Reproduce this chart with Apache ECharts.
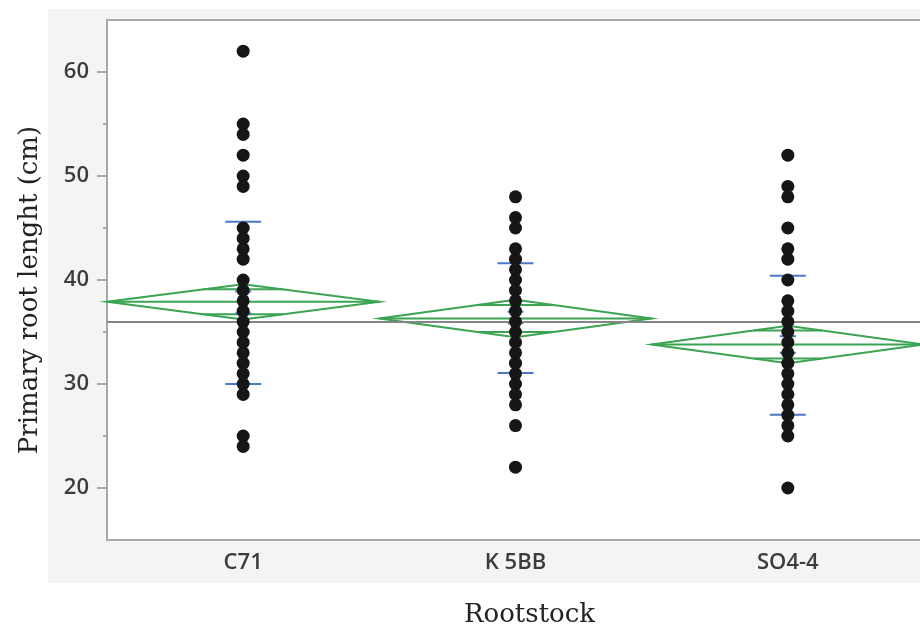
<!DOCTYPE html>
<html lang="en" style="height: 100%">
<head>
  <meta charset="UTF-8">
  <title>Primary root length by rootstock</title>
  <script src="https://cdn.jsdelivr.net/npm/echarts@6/dist/echarts.min.js"></script>
</head>
<body style="height: 100%; margin: 0; background: #fff;">
  <div id="main" style="width: 920px; height: 628px;"></div>

  <script>
  // categories and raw points
  const categories = ['C71', 'K 5BB', 'SO4-4'];
  const c71Values = [62, 55, 54, 52, 50, 49, 45, 44, 43, 42, 40, 39, 38, 37, 36, 35, 34, 33, 32, 31, 30, 29, 25, 24];
  const k5bbValues = [48, 46, 45, 43, 42, 41, 40, 39, 38, 37, 36, 35, 34, 33, 32, 31, 30, 29, 28, 26, 22];
  const so44Values = [52, 49, 48, 45, 43, 42, 40, 38, 37, 36, 35, 34, 33, 32, 31, 30, 29, 28, 27, 26, 25, 20];

  // means diamonds (mean, 95% CI half height, overlap marks)
  const means = [37.9, 36.3, 33.8];
  const ciHalf = [1.7, 1.8, 1.8];
  const overlapHalf = [1.2, 1.3, 1.35];

  // std dev bars and mean error bars
  const sdHi = [45.6, 41.6, 40.4];
  const sdLo = [30.0, 31.05, 27.05];
  const seHi = [38.9, 36.95, 34.6];
  const seLo = [36.8, 35.85, 33.0];

  const grandMean = 36.0;

  const majorTicks = [20, 30, 40, 50, 60];
  const minorTicks = [25, 35, 45, 55];

  const groups = [c71Values, k5bbValues, so44Values];
  const points = [];
  groups.forEach(function (vals, i) {
    vals.forEach(function (v) { points.push([i, v]); });
  });

  const green = '#3aa453';
  const blue = '#4a78c8';
  const axisGray = '#a8a8a8';

  const chart = echarts.init(document.getElementById('main'));

  const option = {
    animation: false,
    backgroundColor: '#fff',
    graphic: [{
      type: 'rect',
      z: -10,
      left: 48,
      top: 9,
      shape: { width: 880, height: 574 },
      style: { fill: '#f4f4f4' },
      silent: true
    }],
    grid: {
      left: 107,
      right: -4,
      top: 20,
      bottom: 88,
      outerBoundsMode: 'none',
      show: true,
      backgroundColor: '#fff',
      borderWidth: 0
    },
    xAxis: [{
      type: 'category',
      data: categories,
      boundaryGap: true,
      name: 'Rootstock',
      nameLocation: 'middle',
      nameGap: 62,
      nameTextStyle: {
        fontFamily: 'DejaVu Serif',
        fontSize: 26,
        color: '#222',
        padding: [0, 0, 0, 28]
      },
      axisLine: { lineStyle: { color: axisGray, width: 2 } },
      axisTick: { length: 14, lineStyle: { color: axisGray, width: 2 } },
      axisLabel: {
        fontFamily: 'Open Sans',
        fontSize: 22,
        fontWeight: 600,
        color: '#3c3c3c',
        margin: 12
      },
      splitLine: { show: false }
    }, {
      type: 'category',
      data: categories,
      position: 'top',
      axisLine: { lineStyle: { color: axisGray, width: 2 } },
      axisTick: { show: false },
      axisLabel: { show: false }
    }],
    yAxis: [{
      type: 'value',
      min: 15,
      max: 65,
      name: 'Primary root lenght (cm)',
      nameLocation: 'middle',
      nameGap: 64,
      nameTextStyle: {
        fontFamily: 'DejaVu Serif',
        fontSize: 26,
        color: '#222',
        padding: [0, 0, 0, -20]
      },
      axisLine: { show: true, lineStyle: { color: axisGray, width: 2 } },
      axisTick: { show: true, length: 10, customValues: majorTicks, lineStyle: { color: axisGray, width: 2 } },
      axisLabel: {
        customValues: majorTicks,
        fontFamily: 'Open Sans',
        fontSize: 22,
        fontWeight: 600,
        color: '#3c3c3c',
        margin: 18
      },
      splitLine: { show: false }
    }, {
      type: 'value',
      min: 15,
      max: 65,
      position: 'left',
      axisLine: { show: false },
      axisTick: { show: true, length: 4, customValues: minorTicks, lineStyle: { color: axisGray, width: 2 } },
      axisLabel: { show: false },
      splitLine: { show: false }
    }],
    series: [
      {
        // grand mean line
        type: 'scatter',
        data: [],
        z: 1,
        markLine: {
          silent: true,
          symbol: 'none',
          label: { show: false },
          lineStyle: { color: '#858585', width: 2, type: 'solid', opacity: 1 },
          data: [{ yAxis: grandMean }]
        }
      },
      {
        // means diamonds
        type: 'custom',
        z: 2,
        data: categories.map(function (c, i) {
          return [i, means[i], ciHalf[i], overlapHalf[i]];
        }),
        renderItem: function (params, api) {
          const i = api.value(0);
          const m = api.value(1);
          const h = api.value(2);
          const o = api.value(3);
          const c = api.coord([i, m]);
          const half = api.size([1, 0])[0] / 2;
          const yTop = api.coord([i, m + h])[1];
          const yBot = api.coord([i, m - h])[1];
          const yOTop = api.coord([i, m + o])[1];
          const yOBot = api.coord([i, m - o])[1];
          const ow = half * (1 - o / h);
          const st = { stroke: green, lineWidth: 2, fill: null };
          return {
            type: 'group',
            children: [
              { type: 'polygon', shape: { points: [[c[0] - half, c[1]], [c[0], yTop], [c[0] + half, c[1]], [c[0], yBot]] }, style: st },
              { type: 'line', shape: { x1: c[0] - half, y1: c[1], x2: c[0] + half, y2: c[1] }, style: st },
              { type: 'line', shape: { x1: c[0] - ow, y1: yOTop, x2: c[0] + ow, y2: yOTop }, style: st },
              { type: 'line', shape: { x1: c[0] - ow, y1: yOBot, x2: c[0] + ow, y2: yOBot }, style: st }
            ]
          };
        }
      },
      {
        // std dev and mean error bars
        type: 'custom',
        z: 3,
        data: categories.map(function (c, i) {
          return [i, sdHi[i], sdLo[i], seHi[i], seLo[i]];
        }),
        renderItem: function (params, api) {
          const i = api.value(0);
          const cx = api.coord([i, 0])[0];
          const st = { stroke: blue, lineWidth: 2 };
          const bar = function (v, w) {
            const y = api.coord([i, v])[1];
            return { type: 'line', shape: { x1: cx - w, y1: y, x2: cx + w, y2: y }, style: st };
          };
          return {
            type: 'group',
            children: [
              bar(api.value(1), 18), bar(api.value(2), 18),
              bar(api.value(3), 8), bar(api.value(4), 8)
            ]
          };
        }
      },
      {
        type: 'scatter',
        z: 5,
        symbol: 'circle',
        symbolSize: 13,
        itemStyle: { color: '#161616', opacity: 1 },
        data: points
      }
    ]
  };

  chart.setOption(option);
  </script>
</body>
</html>
